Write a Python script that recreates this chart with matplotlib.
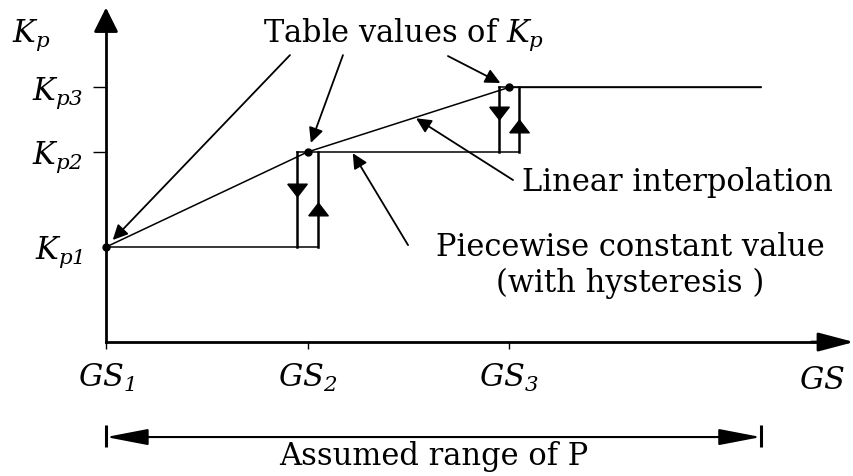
import numpy as np
import matplotlib
matplotlib.use('Agg')
import matplotlib.pyplot as plt

# all symbols in the sketch are italic, subscript digits included
plt.rcParams.update({'font.family': 'DejaVu Serif', 'font.size': 22,
                     'mathtext.fontset': 'custom',
                     'mathtext.rm': 'DejaVu Serif:italic',
                     'mathtext.it': 'DejaVu Serif:italic'})

# scheduling table: breakpoints of the scheduling variable and gains
gs_table = [1.0, 2.0, 3.0]
kp_table = [1.0, 2.0, 2.68]
gs_labels = [r'$GS_1$', r'$GS_2$', r'$GS_3$']
kp_labels = [r'$K_{p1}$', r'$K_{p2}$', r'$K_{p3}$']
hyst = 0.05      # half width of the switching band around each GS_i
gs_max = 4.25    # upper end of the assumed range of P

k = 'black'
fig = plt.figure(figsize=(8.54, 4.76), dpi=100)
ax = fig.add_axes([0, 0, 1, 1])
ax.set_xlim(0.474, 4.712)
ax.set_ylim(-1.41, 3.6)

# axes through the origin, drawn with arrow heads
for s in ['top', 'right']:
    ax.spines[s].set_visible(False)
ax.spines['left'].set_position(('data', gs_table[0]))
ax.spines['bottom'].set_position(('data', 0))
ax.spines['left'].set_bounds(0, 3.4)
ax.spines['bottom'].set_bounds(gs_table[0], 4.6)
ax.spines['left'].set_linewidth(2)
ax.spines['bottom'].set_linewidth(2)
ax.annotate('', xy=(gs_table[0], 3.52), xytext=(gs_table[0], 3.3),
            arrowprops=dict(arrowstyle='-|>,head_length=1.5,head_width=0.75',
                            mutation_scale=10, lw=2, color=k, shrinkA=0, shrinkB=0))
ax.annotate('', xy=(4.712, 0), xytext=(4.5, 0),
            arrowprops=dict(arrowstyle='-|>,head_length=2.2,head_width=0.58',
                            mutation_scale=10, lw=2, color=k, shrinkA=0, shrinkB=0))

ax.set_xticks(gs_table, gs_labels)
ax.set_yticks(kp_table, kp_labels)
ax.tick_params(axis='x', direction='out', length=5, width=1, pad=9)
ax.tick_params(axis='y', direction='out', length=9.5, width=1, pad=7)
ax.yaxis.get_major_ticks()[0].tick1line.set_visible(False)
ax.text(4.553, -0.4, r'$GS$', ha='center', va='center')
ax.text(0.628, 3.23, r'$K_p$', ha='center', va='center')

# linear interpolation between the table values
ax.plot(gs_table + [gs_max], kp_table + [kp_table[-1]], color=k, lw=1.1)

# piecewise constant value with hysteresis
n = len(gs_table)
for i in range(n):
    start = gs_table[i] - hyst if i > 0 else gs_table[0]
    end = gs_table[i + 1] + hyst if i < n - 1 else gs_max
    ax.plot([start, end], [kp_table[i], kp_table[i]], color=k, lw=1.1)

down = [(-1, 0.65), (1, 0.65), (0, -0.65), (-1, 0.65)]
up = [(-1, -0.65), (1, -0.65), (0, 0.65), (-1, -0.65)]
for i in range(1, n):
    g, lo, hi = gs_table[i], kp_table[i - 1], kp_table[i]
    ax.plot([g - hyst, g - hyst], [lo, hi], color=k, lw=1.8)
    ax.plot([g + hyst, g + hyst], [lo, hi], color=k, lw=1.8)
    ax.plot(g - hyst, hi - 0.4 * (hi - lo), marker=down, ms=14, color=k)
    ax.plot(g + hyst, hi - 0.6 * (hi - lo), marker=up, ms=14, color=k)

ax.plot(gs_table, kp_table, 'o', ms=5, color=k)

# annotations
lead = dict(arrowstyle='-|>,head_length=0.45,head_width=0.22', mutation_scale=20,
            lw=1.3, color=k, shrinkA=0)
ax.text(2.479, 3.23, r'Table values of $K_p$', ha='center', va='center')
for g, kp, src in zip(gs_table, kp_table, [(1.913, 3.02), (2.176, 3.02), (2.697, 3.01)]):
    ax.annotate('', xy=(g, kp), xytext=src, arrowprops=dict(lead, shrinkB=7))

g_lin = 2.533
ax.annotate('', xy=(g_lin, np.interp(g_lin, gs_table, kp_table)), xytext=(3.02, 1.705),
            arrowprops=dict(lead, shrinkB=1))
ax.text(3.065, 1.684, 'Linear interpolation', ha='left', va='center')

ax.annotate('', xy=(2.221, kp_table[1]), xytext=(2.499, 1.02),
            arrowprops=dict(lead, shrinkB=1))
ax.text(3.6, 0.81, 'Piecewise constant value\n(with hysteresis )',
        ha='center', va='center', multialignment='center', linespacing=1.2)

# assumed range of the scheduling variable
ax.annotate('', xy=(gs_max, -1.0), xytext=(gs_table[0], -1.0),
            arrowprops=dict(arrowstyle='<|-|>,head_length=2.6,head_width=0.5',
                            mutation_scale=10, lw=1.5, color=k, shrinkA=0, shrinkB=0))
ax.vlines([gs_table[0], gs_max], -1.105, -0.875, color=k, lw=2.2)
ax.text((gs_table[0] + gs_max) / 2, -1.205, 'Assumed range of P', ha='center', va='center')

fig.savefig('out.png', dpi=100)
